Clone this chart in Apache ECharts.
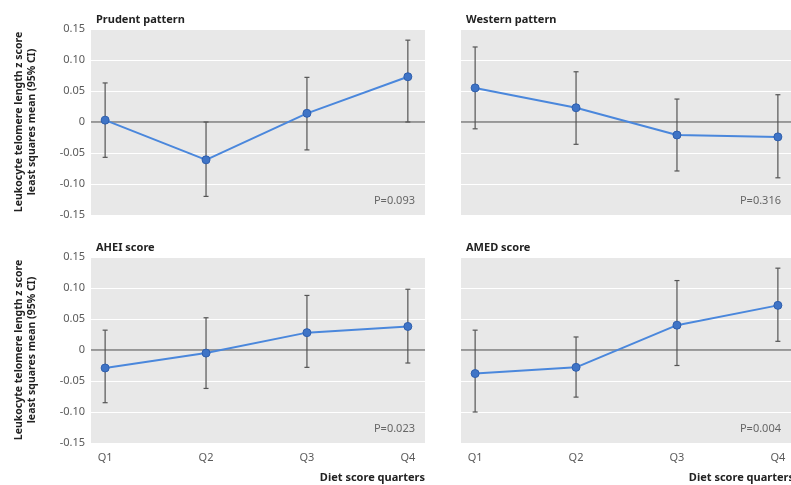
<!DOCTYPE html>
<html>
<head>
<meta charset="utf-8">
<script src="https://cdn.jsdelivr.net/npm/echarts@6/dist/echarts.min.js"></script>
<style>
  html, body { margin: 0; padding: 0; background: #fff; }
  #chart { width: 791px; height: 485px; }
</style>
</head>
<body>
<div id="chart"></div>
<script>
// diet score quarters
const quarters = ['Q1', 'Q2', 'Q3', 'Q4']
const yTicks = ['-0.15', '-0.10', '-0.05', '0', '0.05', '0.10', '0.15']

const panelTitles = ['Prudent pattern', 'Western pattern', 'AHEI score', 'AMED score']
const pValues = ['P=0.093', 'P=0.316', 'P=0.023', 'P=0.004']

// least squares means and 95% CI per panel
const prudentMean = [0.003, -0.061, 0.014, 0.073]
const prudentLow = [-0.057, -0.120, -0.045, 0.000]
const prudentHigh = [0.063, 0.000, 0.072, 0.132]

const westernMean = [0.055, 0.023, -0.021, -0.024]
const westernLow = [-0.011, -0.036, -0.079, -0.090]
const westernHigh = [0.121, 0.081, 0.037, 0.044]

const aheiMean = [-0.029, -0.005, 0.028, 0.038]
const aheiLow = [-0.085, -0.062, -0.028, -0.021]
const aheiHigh = [0.032, 0.052, 0.088, 0.098]

const amedMean = [-0.038, -0.028, 0.040, 0.072]
const amedLow = [-0.100, -0.076, -0.025, 0.014]
const amedHigh = [0.032, 0.021, 0.112, 0.132]

const means = [prudentMean, westernMean, aheiMean, amedMean]
const lows = [prudentLow, westernLow, aheiLow, amedLow]
const highs = [prudentHigh, westernHigh, aheiHigh, amedHigh]

const font = 'Noto Sans'
const grids = [
  { left: 91, top: 29, width: 334, height: 186 },
  { left: 461, top: 29, right: 0, height: 186 },
  { left: 91, top: 257, width: 334, height: 186 },
  { left: 461, top: 257, right: 0, height: 186 }
]
const xRanges = [[0.86, 4.17], [0.86, 4.13], [0.86, 4.17], [0.86, 4.13]]

const chart = echarts.init(document.getElementById('chart'))

const option = {
  animation: false,
  textStyle: { fontFamily: font },
  title: panelTitles.map((t, i) => ({
    text: t,
    left: grids[i].left,
    top: grids[i].top - 20,
    textStyle: { fontSize: 11, fontWeight: 'bold', color: '#222', fontFamily: font }
  })),
  grid: grids.map(g => Object.assign({
    show: true, backgroundColor: '#e8e8e8', borderWidth: 0
  }, g)),
  xAxis: grids.map((g, i) => ({
    type: 'value',
    gridIndex: i,
    min: xRanges[i][0],
    max: xRanges[i][1],
    axisLine: { show: false },
    axisTick: { show: false },
    splitLine: { show: false },
    axisLabel: {
      show: i >= 2,
      customValues: [1, 2, 3, 4],
      formatter: v => quarters[Math.round(v) - 1] || '',
      margin: 9,
      fontSize: 11,
      color: '#5a5a5a'
    }
  })),
  yAxis: grids.map((g, i) => ({
    type: 'value',
    gridIndex: i,
    min: -0.15,
    max: 0.15,
    interval: 0.05,
    axisLine: { show: false },
    axisTick: { show: false },
    splitLine: { show: true, lineStyle: { color: '#ffffff', width: 1.2 } },
    axisLabel: {
      show: i % 2 === 0,
      margin: 6,
      fontSize: 11,
      color: '#5a5a5a',
      formatter: v => yTicks[Math.round((v + 0.15) / 0.05)]
    }
  })),
  series: [],
  graphic: []
}

for (let i = 0; i < 4; i++) {
  const barData = quarters.map((q, k) => [k + 1, lows[i][k], highs[i][k]])
  option.series.push({
    type: 'custom',
    xAxisIndex: i,
    yAxisIndex: i,
    z: 2,
    encode: { x: 0, y: [1, 2] },
    data: barData,
    renderItem: function (params, api) {
      const lo = api.coord([api.value(0), api.value(1)])
      const hi = api.coord([api.value(0), api.value(2)])
      const style = { stroke: '#555', lineWidth: 1.2 }
      const cap = 2.5
      return {
        type: 'group',
        children: [
          { type: 'line', shape: { x1: lo[0], y1: lo[1], x2: hi[0], y2: hi[1] }, style: style },
          { type: 'line', shape: { x1: lo[0] - cap, y1: lo[1], x2: lo[0] + cap, y2: lo[1] }, style: style },
          { type: 'line', shape: { x1: hi[0] - cap, y1: hi[1], x2: hi[0] + cap, y2: hi[1] }, style: style }
        ]
      }
    }
  })
  option.series.push({
    type: 'line',
    xAxisIndex: i,
    yAxisIndex: i,
    z: 3,
    data: means[i].map((v, k) => [k + 1, v]),
    symbol: 'circle',
    symbolSize: 8,
    lineStyle: { color: '#4a87dc', width: 2 },
    itemStyle: { color: '#3f74c6', borderColor: '#2f5fae', borderWidth: 1 },
    markLine: {
      silent: true,
      symbol: 'none',
      label: { show: false },
      z: 1,
      lineStyle: { color: '#7d7d7d', type: 'solid', width: 1.5 },
      data: [{ yAxis: 0 }]
    }
  })

  const g = grids[i]
  const right = g.width ? g.left + g.width : 791
  option.graphic.push({
    type: 'text',
    x: right - 10,
    y: g.top + g.height - 14,
    style: { text: pValues[i], align: 'right', verticalAlign: 'middle', fontSize: 11, fill: '#666', fontFamily: font }
  })
}

// y-axis titles
;[122, 350].forEach(cy => {
  option.graphic.push({
    type: 'text',
    x: 26,
    y: cy,
    rotation: Math.PI / 2,
    style: {
      text: 'Leukocyte telomere length z score\nleast squares mean (95% CI)',
      align: 'center',
      verticalAlign: 'middle',
      fontSize: 10.5,
      lineHeight: 13,
      fontWeight: 'bold',
      fill: '#222',
      fontFamily: font
    }
  })
})

// x-axis titles
;[425, 794].forEach(rx => {
  option.graphic.push({
    type: 'text',
    x: rx,
    y: 478,
    style: { text: 'Diet score quarters', align: 'right', verticalAlign: 'middle', fontSize: 11, fontWeight: 'bold', fill: '#222', fontFamily: font }
  })
})

chart.setOption(option)
</script>
</body>
</html>
